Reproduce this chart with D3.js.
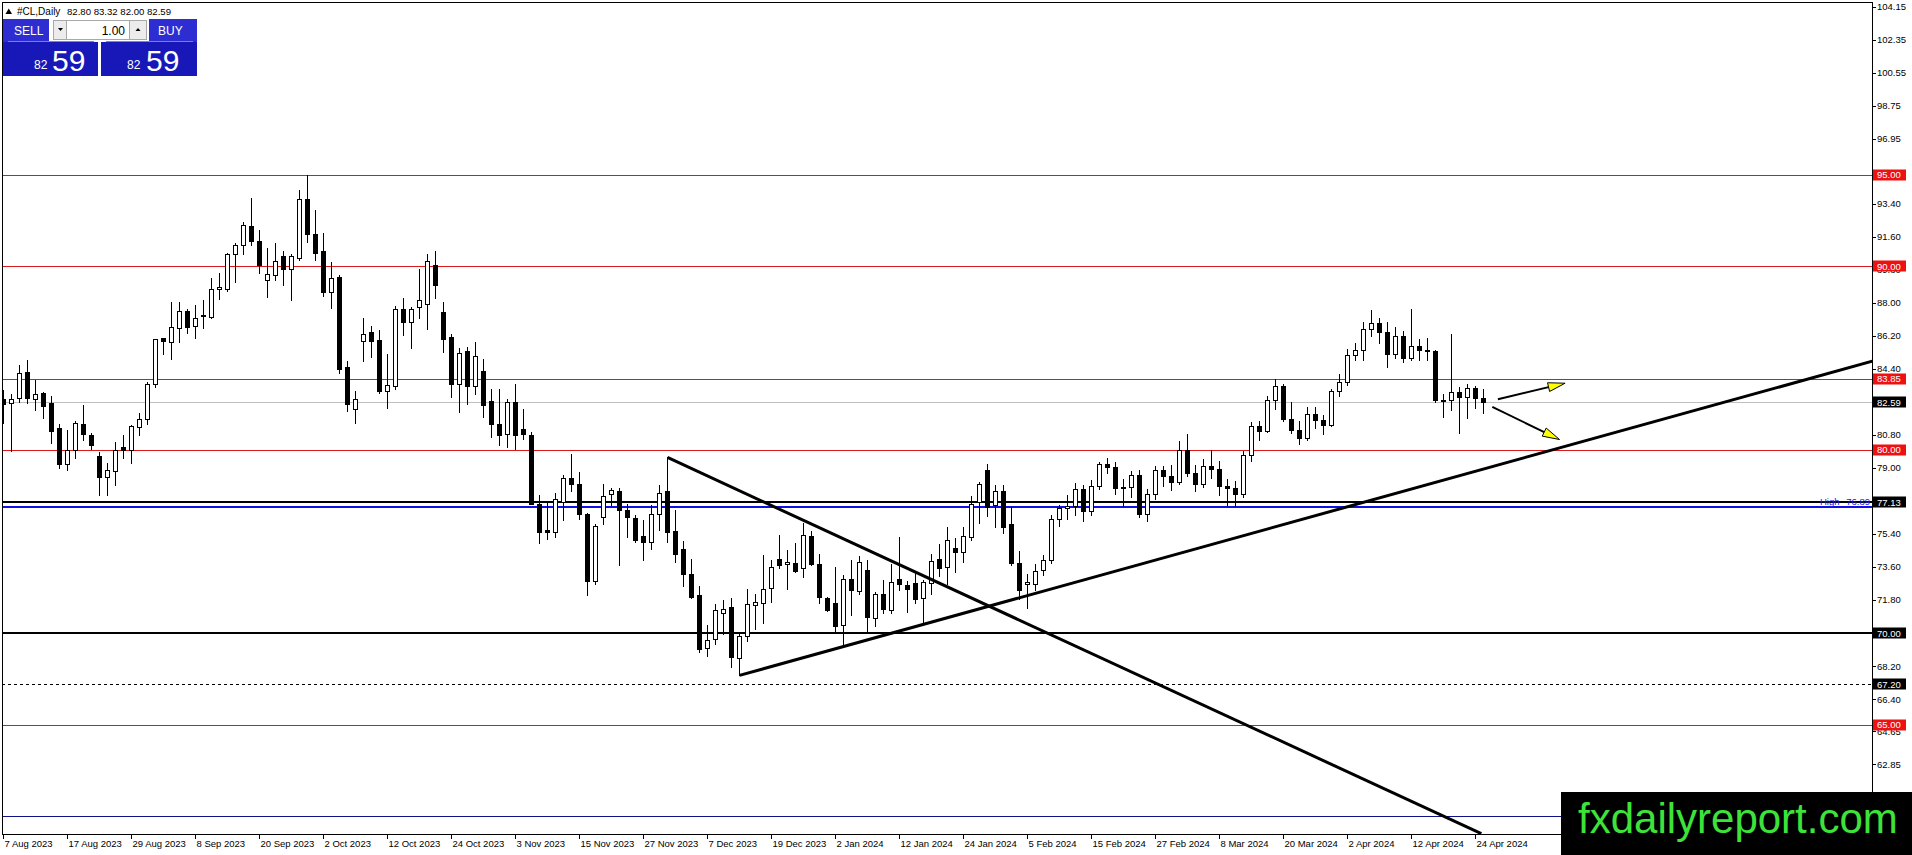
<!DOCTYPE html>
<html><head><meta charset="utf-8">
<script src="https://cdn.jsdelivr.net/npm/d3@7"></script>
<style>
body{margin:0;background:#fff;overflow:hidden;}
svg{display:block;font-family:"Liberation Sans",Arial,sans-serif;}
</style>
</head><body>
<svg id="chart" width="1912" height="855"></svg>
<script>
// ---------- DATA ----------
const symbolTitle = "#CL,Daily";
const lastBar = [82.80, 83.32, 82.00, 82.59];
const lotSize = "1.00";
const bidBig = "59", bidSmall = "82";

const openP = [82.78,82.53,82.84,84.22,82.78,83.06,82.53,81.20,79.24,79.97,81.38,80.82,79.64,78.51,78.84,80.13,79.97,81.24,81.66,83.60,
86.07,85.87,86.65,87.55,86.75,87.36,87.24,88.73,88.74,90.64,91.18,92.18,91.36,89.27,89.54,90.54,89.87,90.45,93.65,91.74,
90.82,88.60,89.40,84.49,82.24,85.93,86.40,85.96,83.18,83.47,87.69,86.98,87.80,87.96,90.05,87.49,86.13,83.60,85.35,83.49,
84.31,82.67,81.42,80.87,82.60,81.11,80.82,77.06,75.60,75.51,77.15,78.47,78.14,76.51,72.84,76.33,77.60,77.73,76.69,76.29,
75.27,74.96,76.51,77.75,75.55,74.57,73.24,72.06,69.20,69.69,71.11,71.40,68.64,69.82,71.55,71.64,72.47,74.06,73.76,73.84,
73.57,75.27,73.75,71.93,71.66,70.46,72.97,72.29,73.46,70.84,72.15,71.27,72.97,72.60,72.75,71.93,72.73,74.06,73.60,74.62,
74.42,75.24,77.15,78.91,76.96,77.74,75.93,73.84,72.69,72.69,73.46,74.00,76.22,76.84,76.92,77.87,76.64,78.03,79.19,79.05,
77.90,77.95,78.61,76.49,77.58,78.87,78.54,78.26,79.97,78.74,78.15,79.13,78.93,78.01,77.93,77.56,79.72,81.26,81.04,82.72,
83.47,81.68,81.07,80.63,81.95,81.62,81.35,83.17,83.71,85.15,85.43,86.59,86.91,86.43,85.23,86.21,85.02,85.66,85.41,85.36,
82.69,82.73,83.14,82.85,83.36,82.80];
const highP = [83.27,83.05,84.60,84.87,83.78,83.15,82.91,81.38,81.06,81.55,82.42,80.91,79.87,79.27,80.40,80.82,81.35,82.02,83.66,86.05,
86.11,88.05,88.05,87.69,87.91,88.14,89.33,89.64,90.74,91.27,92.42,93.72,91.96,91.00,91.29,90.82,90.69,94.14,95.00,93.05,
91.83,90.24,89.54,84.85,83.22,87.20,86.75,86.51,85.20,87.82,88.29,87.78,89.84,90.65,90.85,88.04,86.29,85.53,85.60,85.84,
84.96,83.33,83.30,82.78,83.56,82.20,80.96,77.51,77.15,77.64,78.60,79.75,78.78,76.55,75.93,78.14,77.93,77.93,77.02,76.42,
76.18,76.96,78.05,79.60,76.69,75.00,74.06,72.55,70.42,71.57,71.78,71.91,69.97,72.38,72.15,74.24,74.00,75.33,74.55,74.93,
76.00,75.56,74.33,71.97,73.60,73.18,73.97,74.18,73.97,72.26,72.87,73.75,75.24,72.84,73.33,72.87,74.33,74.87,75.78,75.20,
75.78,77.46,78.24,79.24,78.05,78.05,76.87,74.47,73.24,73.75,74.24,76.45,77.00,77.55,78.20,78.05,78.35,79.30,79.55,79.30,
78.40,78.85,78.90,77.85,79.10,79.10,79.15,80.45,80.85,79.15,79.50,80.00,79.40,78.40,78.30,79.90,81.50,81.55,82.90,83.85,
83.60,82.60,81.55,82.30,82.30,81.90,83.30,84.10,85.50,85.80,86.95,87.63,87.20,86.95,86.70,86.45,87.67,86.05,86.10,85.45,
83.05,86.30,83.40,83.60,83.45,83.32];
const lowP = [81.47,79.91,82.60,82.55,82.18,81.75,80.37,79.00,78.91,79.55,80.51,80.02,77.55,77.53,78.06,79.55,79.27,80.78,81.40,83.42,
85.20,84.93,85.87,86.36,86.09,86.65,87.18,88.22,88.64,89.14,90.69,91.14,89.64,88.33,89.24,89.00,88.16,90.33,91.32,90.33,
88.38,87.73,84.15,82.11,81.47,84.84,85.05,83.09,82.27,83.33,86.25,85.55,87.15,86.58,88.29,85.33,82.89,82.06,82.47,83.04,
81.78,80.69,80.24,80.15,80.05,80.60,77.02,74.91,75.15,75.24,76.18,77.75,76.24,72.06,72.66,75.93,76.96,73.69,75.24,74.96,
73.97,74.57,75.64,74.96,73.87,72.57,71.90,68.97,68.73,69.42,69.97,68.15,67.69,69.57,70.24,70.57,71.69,73.55,72.42,73.33,
73.06,73.69,71.64,71.18,70.00,69.33,70.97,72.15,70.00,70.38,71.11,71.09,72.37,71.15,71.64,70.51,72.11,73.09,72.66,73.33,
73.87,75.09,76.00,76.36,75.78,75.45,73.69,71.88,71.39,72.33,73.15,73.80,75.85,76.20,76.45,76.10,76.45,77.85,78.75,77.60,
76.95,77.40,76.30,76.10,77.30,78.00,77.80,78.10,78.55,77.75,77.95,78.45,77.50,77.00,76.90,77.40,79.40,80.50,80.95,82.20,
81.55,80.90,80.30,80.55,81.20,80.85,81.30,82.90,83.50,84.90,84.90,86.20,85.80,84.50,85.00,84.75,84.90,84.90,84.90,82.60,
81.80,82.15,80.90,81.70,82.25,82.00];
const closeP = [82.46,82.78,84.20,82.82,83.02,82.38,81.02,79.24,80.00,81.44,80.87,80.27,78.51,78.87,80.00,79.97,81.26,81.69,83.56,86.02,
85.93,86.71,87.55,86.69,87.20,87.29,88.73,88.84,90.69,91.18,92.24,91.36,90.09,89.56,90.31,89.85,90.54,93.69,91.76,90.73,
88.60,89.38,84.40,82.49,82.78,86.33,85.93,83.20,83.51,87.69,86.96,87.69,88.13,90.31,89.00,86.05,83.58,85.24,83.47,85.13,
82.45,81.40,80.78,82.60,80.78,80.87,77.06,75.51,75.51,77.31,78.47,78.14,76.51,72.84,75.82,77.49,77.78,76.73,76.33,75.06,
74.96,76.51,77.65,75.51,74.29,73.20,71.96,69.15,69.60,71.24,71.33,68.69,69.82,71.60,71.71,72.42,73.58,73.71,73.89,73.38,
75.36,73.75,71.97,71.24,70.38,72.97,72.37,73.89,70.87,72.15,71.29,72.80,72.69,72.42,71.87,72.78,73.93,73.57,75.09,74.42,
75.31,77.05,78.15,76.87,77.74,75.78,73.82,72.33,72.78,73.38,74.00,76.22,76.84,76.92,77.87,76.64,78.03,79.19,79.05,77.90,
77.95,78.61,76.49,77.58,78.87,78.54,78.26,79.97,78.74,78.15,79.13,78.93,78.01,77.93,77.56,79.72,81.26,81.04,82.72,83.47,
81.68,81.07,80.63,81.95,81.62,81.35,83.17,83.71,85.15,85.43,86.59,86.91,86.43,85.23,86.21,85.02,85.66,85.41,85.36,82.69,
82.73,83.14,82.85,83.36,82.81,82.59];

const xTickBars   = [0,8,16,24,32,40,48,56,64,72,80,88,96,104,112,120,128,136,144,152,160,168,176,184];
const xTickLabels = ["7 Aug 2023","17 Aug 2023","29 Aug 2023","8 Sep 2023","20 Sep 2023","2 Oct 2023","12 Oct 2023",
  "24 Oct 2023","3 Nov 2023","15 Nov 2023","27 Nov 2023","7 Dec 2023","19 Dec 2023","2 Jan 2024","12 Jan 2024",
  "24 Jan 2024","5 Feb 2024","15 Feb 2024","27 Feb 2024","8 Mar 2024","20 Mar 2024","2 Apr 2024","12 Apr 2024","24 Apr 2024"];
const yTicks = [104.15,102.35,100.55,98.75,96.95,95.15,93.40,91.60,89.80,88.00,86.20,84.40,82.60,80.80,79.00,77.20,
  75.40,73.60,71.80,70.00,68.20,66.40,64.65,62.85];

const redLevels   = [95.00, 90.00, 83.85, 80.00, 65.00];
const bidPrice    = 82.59;
const blackLevels = [77.13, 70.00];
const dashedLevel = 67.20;
const blueLevel   = 76.89;
const navyLevel   = 60.00;
const boxedBlack  = [82.59, 77.13, 70.00, 67.20];

// trend lines: [bar1, price1, bar2, price2]
const trendLines = [[83, 79.57, 184.73, 59.06], [92, 67.69, 233.6, 84.82]];
// arrows: [barFrom, priceFrom, barTo, priceTo]
const arrows = [[186.8, 82.75, 195.2, 83.62], [186.1, 82.33, 194.5, 80.55]];

// ---------- DRAW ----------
const svg = d3.select("#chart");
const L = 2, R = 1872, T = 2, B = 834;
const x = d3.scaleLinear().domain([0, 185]).range([3.5, 3.5 + 8 * 185]);
const y = d3.scaleLinear().domain([70, 95]).range([633, 174.5]);
const sy = v => Math.round(y(v)) + 0.5;

svg.append("rect").attr("width", 1912).attr("height", 855).attr("fill", "#fff");

svg.append("defs").append("clipPath").attr("id", "plot")
  .append("rect").attr("x", L).attr("y", T).attr("width", R - L).attr("height", B - T);

const g = svg.append("g").attr("clip-path", "url(#plot)");

// horizontal levels
g.append("line").attr("x1", L).attr("x2", R).attr("y1", sy(navyLevel)).attr("y2", sy(navyLevel))
  .attr("stroke", "#101088").attr("stroke-width", 1);
g.append("line").attr("x1", L).attr("x2", R).attr("y1", sy(dashedLevel)).attr("y2", sy(dashedLevel))
  .attr("stroke", "#000").attr("stroke-width", 1).attr("stroke-dasharray", "3,3");
g.selectAll(".red").data(redLevels).join("line")
  .attr("x1", L).attr("x2", R).attr("y1", d => sy(d)).attr("y2", d => sy(d))
  .attr("stroke", "#d91a1a").attr("stroke-width", 1);
g.append("line").attr("x1", L).attr("x2", R).attr("y1", sy(bidPrice)).attr("y2", sy(bidPrice))
  .attr("stroke", "#c0c0c0").attr("stroke-width", 1);
g.append("line").attr("x1", L).attr("x2", R).attr("y1", Math.round(y(blueLevel))).attr("y2", Math.round(y(blueLevel)))
  .attr("stroke", "#1010e6").attr("stroke-width", 2);
g.selectAll(".blk").data(blackLevels).join("line")
  .attr("x1", L).attr("x2", R).attr("y1", d => Math.round(y(d))).attr("y2", d => Math.round(y(d)))
  .attr("stroke", "#000").attr("stroke-width", 2);

// candles
const idx = d3.range(openP.length);
const cx = i => Math.floor(x(i)) + 0.5;
g.selectAll(".wick").data(idx).join("line")
  .attr("x1", cx).attr("x2", cx)
  .attr("y1", i => Math.round(y(highP[i]))).attr("y2", i => Math.round(y(lowP[i])) + 1)
  .attr("stroke", "#000").attr("stroke-width", 1).attr("shape-rendering", "crispEdges");
g.selectAll(".body").data(idx).join("rect")
  .attr("x", i => cx(i) - 2)
  .attr("y", i => Math.round(y(Math.max(openP[i], closeP[i]))) + 0.5)
  .attr("width", 4)
  .attr("height", i => Math.max(1, Math.round(y(Math.min(openP[i], closeP[i]))) - Math.round(y(Math.max(openP[i], closeP[i])))))
  .attr("fill", i => closeP[i] >= openP[i] ? "#fff" : "#000")
  .attr("stroke", "#000").attr("stroke-width", 1).attr("shape-rendering", "crispEdges");

// trend lines
g.selectAll(".trend").data(trendLines).join("line")
  .attr("x1", d => x(d[0])).attr("y1", d => y(d[1]))
  .attr("x2", d => x(d[2])).attr("y2", d => y(d[3]))
  .attr("stroke", "#000").attr("stroke-width", 3);

// arrows
arrows.forEach(a => {
  const x1 = x(a[0]), y1 = y(a[1]), x2 = x(a[2]), y2 = y(a[3]);
  const dx = x2 - x1, dy = y2 - y1, len = Math.hypot(dx, dy);
  const ux = dx / len, uy = dy / len, hl = 17, hw = 4.5;
  const bx = x2 - ux * hl, by = y2 - uy * hl;
  g.append("line").attr("x1", x1).attr("y1", y1).attr("x2", bx).attr("y2", by)
    .attr("stroke", "#000").attr("stroke-width", 2);
  g.append("path")
    .attr("d", `M${x2},${y2}L${bx - uy * hw},${by + ux * hw}L${bx + uy * hw},${by - ux * hw}Z`)
    .attr("fill", "#ffff00").attr("stroke", "#000").attr("stroke-width", 1);
});

// "High 76.89" label
g.append("text").attr("x", 1820).attr("y", 505).attr("font-size", 9.5).attr("fill", "#2020e0").text("High");
g.append("text").attr("x", 1870).attr("y", 505).attr("text-anchor", "end").attr("font-size", 9.5)
  .attr("fill", "#2020e0").text(blueLevel.toFixed(2));

// frame
svg.append("rect").attr("x", L + 0.5).attr("y", T + 0.5).attr("width", R - L).attr("height", B - T)
  .attr("fill", "none").attr("stroke", "#000").attr("stroke-width", 1).attr("shape-rendering", "crispEdges");

// y axis (labels fully covered by a price box are not drawn)
const boxedAll = redLevels.concat(boxedBlack);
const visibleTicks = yTicks.filter(t => !boxedAll.some(b => Math.abs(b - t) < 0.16));
svg.selectAll(".ytick").data(yTicks).join("line")
  .attr("x1", R + 1).attr("x2", R + 4).attr("y1", d => sy(d)).attr("y2", d => sy(d))
  .attr("stroke", "#000").attr("shape-rendering", "crispEdges");
svg.selectAll(".ylab").data(visibleTicks).join("text")
  .attr("x", R + 5).attr("y", d => y(d) + 3.5).attr("font-size", 9.5).attr("fill", "#000")
  .text(d => d.toFixed(2));

// price boxes
function priceBox(v, col) {
  const yc = y(v);
  svg.append("rect").attr("x", R + 1).attr("y", Math.round(yc) - 5.5).attr("width", 33).attr("height", 11).attr("fill", col);
  svg.append("text").attr("x", R + 5).attr("y", yc + 3.5).attr("font-size", 9.5).attr("fill", "#fff").text(v.toFixed(2));
}
redLevels.forEach(v => priceBox(v, "#ee1111"));
boxedBlack.forEach(v => priceBox(v, "#000"));

// x axis
svg.selectAll(".xtick").data(xTickBars).join("line")
  .attr("x1", d => cx(d)).attr("x2", d => cx(d)).attr("y1", B + 1).attr("y2", B + 5)
  .attr("stroke", "#000").attr("shape-rendering", "crispEdges");
svg.selectAll(".xlab").data(xTickBars).join("text")
  .attr("x", d => cx(d) + 1).attr("y", 847).attr("font-size", 9.5).attr("fill", "#000")
  .text((d, i) => xTickLabels[i]);

// title line
svg.append("path").attr("d", "M5.5,14L12,14L8.75,8.5Z").attr("fill", "#000");
svg.append("text").attr("x", 17).attr("y", 15).attr("font-size", 10).attr("fill", "#000").text(symbolTitle);
svg.append("text").attr("x", 67).attr("y", 15).attr("font-size", 9.6).attr("fill", "#000")
  .text(lastBar.map(v => v.toFixed(2)).join(" "));

// one-click trading panel
const p = svg.append("g");
p.append("rect").attr("x", 3).attr("y", 19).attr("width", 46).attr("height", 23).attr("fill", "#2d2dd2");
p.append("rect").attr("x", 149).attr("y", 19).attr("width", 48).attr("height", 23).attr("fill", "#2d2dd2");
p.append("rect").attr("x", 3).attr("y", 42).attr("width", 95).attr("height", 34).attr("fill", "#1818b8");
p.append("rect").attr("x", 101).attr("y", 42).attr("width", 96).attr("height", 34).attr("fill", "#1818b8");
p.append("line").attr("x1", 8).attr("x2", 94).attr("y1", 41.5).attr("y2", 41.5).attr("stroke", "#7a7aff");
p.append("line").attr("x1", 106).attr("x2", 193).attr("y1", 41.5).attr("y2", 41.5).attr("stroke", "#7a7aff");
p.append("rect").attr("x", 53.5).attr("y", 20.5).attr("width", 13).attr("height", 19).attr("fill", "#ececec").attr("stroke", "#a8a8a8");
p.append("rect").attr("x", 66.5).attr("y", 20.5).attr("width", 63).attr("height", 19).attr("fill", "#fff").attr("stroke", "#a8a8a8");
p.append("rect").attr("x", 129.5).attr("y", 20.5).attr("width", 17).attr("height", 19).attr("fill", "#ececec").attr("stroke", "#a8a8a8");
p.append("path").attr("d", "M58,28L63,28L60.5,31Z").attr("fill", "#000");
p.append("path").attr("d", "M135.5,31L140.5,31L138,28Z").attr("fill", "#000");
p.append("text").attr("x", 125).attr("y", 35).attr("text-anchor", "end").attr("font-size", 12).attr("fill", "#000").text(lotSize);
p.append("text").attr("x", 14).attr("y", 35).attr("font-size", 12).attr("fill", "#fff").text("SELL");
p.append("text").attr("x", 158).attr("y", 35).attr("font-size", 12).attr("fill", "#fff").text("BUY");
p.append("text").attr("x", 34).attr("y", 69).attr("font-size", 12).attr("fill", "#fff").text(bidSmall);
p.append("text").attr("x", 52).attr("y", 71).attr("font-size", 30).attr("fill", "#fff").text(bidBig);
p.append("text").attr("x", 127).attr("y", 69).attr("font-size", 12).attr("fill", "#fff").text(bidSmall);
p.append("text").attr("x", 146).attr("y", 71).attr("font-size", 30).attr("fill", "#fff").text(bidBig);

// watermark logo
svg.append("rect").attr("x", 1561).attr("y", 792).attr("width", 351).attr("height", 63).attr("fill", "#000");
svg.append("text").attr("x", 1578).attr("y", 833).attr("font-size", 42).attr("fill", "#3ee33a").text("fxdailyreport.com");
</script>
</body></html>
